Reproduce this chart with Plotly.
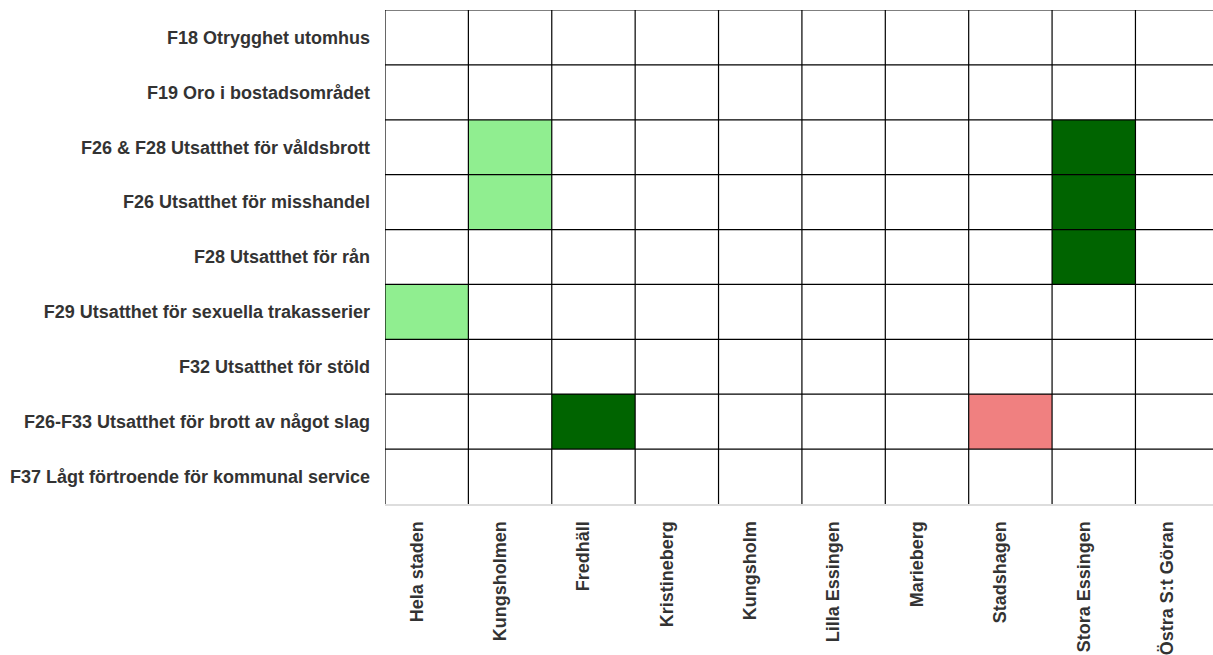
import plotly.graph_objects as go

rows = [
    "F18 Otrygghet utomhus",
    "F19 Oro i bostadsområdet",
    "F26 & F28 Utsatthet för våldsbrott",
    "F26 Utsatthet för misshandel",
    "F28 Utsatthet för rån",
    "F29 Utsatthet för sexuella trakasserier",
    "F32 Utsatthet för stöld",
    "F26-F33 Utsatthet för brott av något slag",
    "F37 Lågt förtroende för kommunal service",
]
cols = ["Hela staden", "Kungsholmen", "Fredhäll", "Kristineberg", "Kungsholm",
        "Lilla Essingen", "Marieberg", "Stadshagen", "Stora Essingen", "Östra S:t Göran"]

# 0 = ingen skillnad, 1 = bättre, 2 = mycket bättre, -1 = sämre
z = [
    [0, 0, 0, 0, 0, 0, 0, 0, 0, 0],
    [0, 0, 0, 0, 0, 0, 0, 0, 0, 0],
    [0, 1, 0, 0, 0, 0, 0, 0, 2, 0],
    [0, 1, 0, 0, 0, 0, 0, 0, 2, 0],
    [0, 0, 0, 0, 0, 0, 0, 0, 2, 0],
    [1, 0, 0, 0, 0, 0, 0, 0, 0, 0],
    [0, 0, 0, 0, 0, 0, 0, 0, 0, 0],
    [0, 0, 2, 0, 0, 0, 0, -1, 0, 0],
    [0, 0, 0, 0, 0, 0, 0, 0, 0, 0],
]

colorscale = [
    [0.0, "#F08080"], [0.25, "#F08080"],
    [0.25, "#FFFFFF"], [0.5, "#FFFFFF"],
    [0.5, "#90EE90"], [0.75, "#90EE90"],
    [0.75, "#006400"], [1.0, "#006400"],
]

fig = go.Figure(go.Heatmap(
    z=z, x=list(range(len(cols))), y=list(range(len(rows))),
    colorscale=colorscale, zmin=-1.5, zmax=2.5, showscale=False, hoverinfo="skip",
))

shapes = []
for i in range(len(cols)):
    shapes.append(dict(type="line", xref="x", yref="y", x0=i - 0.5, x1=i - 0.5,
                       y0=-0.5, y1=len(rows) - 0.5, line=dict(color="black", width=1.2), layer="above"))
for j in range(len(rows)):
    shapes.append(dict(type="line", xref="x", yref="y", x0=-0.5, x1=len(cols) - 0.5,
                       y0=j - 0.5, y1=j - 0.5, line=dict(color="black", width=1.2), layer="above"))

fig.update_layout(
    width=1213, height=655,
    margin=dict(l=385, r=0, t=10, b=149),
    paper_bgcolor="white", plot_bgcolor="white",
    font=dict(family="Liberation Sans, Arial, sans-serif", size=18, color="#333"),
    shapes=shapes,
    xaxis=dict(tickmode="array", tickvals=[i - 0.12 for i in range(len(cols))],
               ticktext=[f"<b>{c}</b>" for c in cols],
               tickangle=-90, range=[-0.5, 9.43], showgrid=False, zeroline=False,
               showline=True, linecolor="#dddddd", linewidth=2, ticks="", ticklabelstandoff=8),
    yaxis=dict(tickmode="array", tickvals=list(range(len(rows))), ticktext=[f"<b>{r}</b>" for r in rows],
               range=[len(rows) - 0.5, -0.5], showgrid=False, zeroline=False, ticks="",
               ticklabelstandoff=14),
)

fig.write_html(
    "out.html",
    config={"displayModeBar": False},
    post_script="document.body.style.margin='0';document.body.style.overflow='hidden';",
)
